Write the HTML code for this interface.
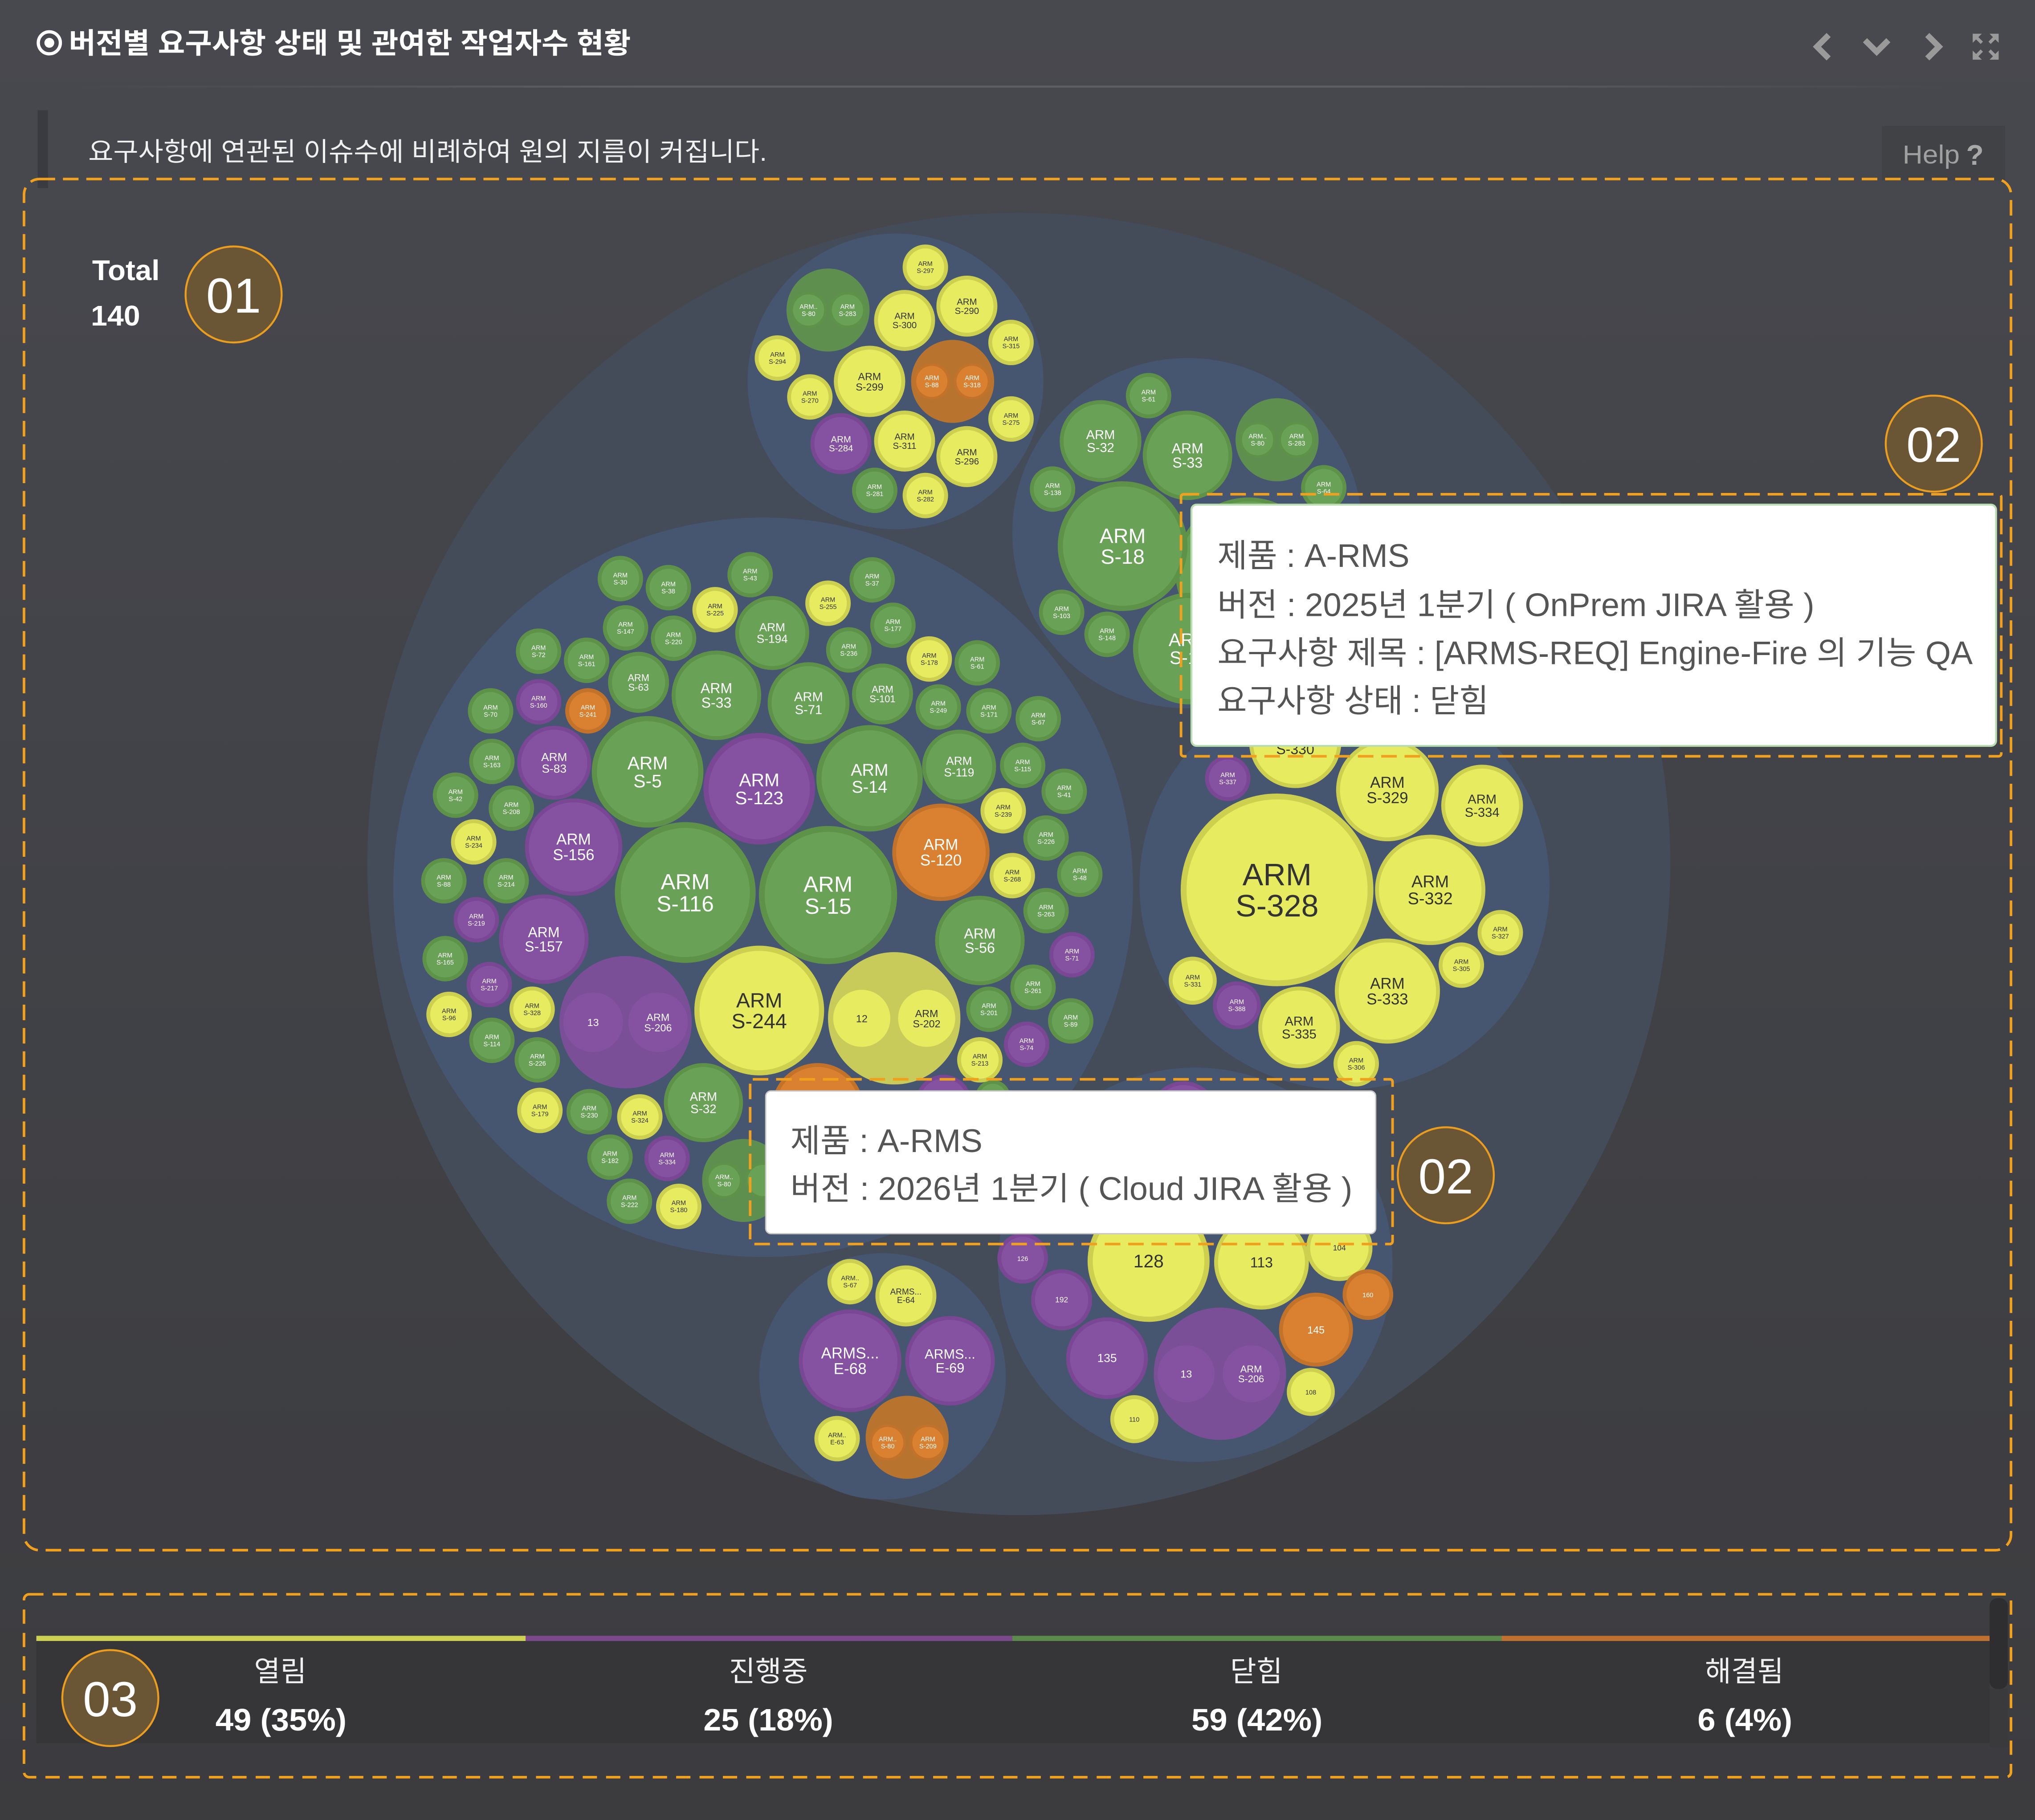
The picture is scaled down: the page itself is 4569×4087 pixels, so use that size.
<!DOCTYPE html>
<html><head><meta charset="utf-8">
<style>
html,body{margin:0;padding:0;background:#424348;}
svg{display:block}
text{font-family:"Liberation Sans","Noto Sans CJK KR",sans-serif}
.kr{font-family:"Liberation Sans","Noto Sans CJK KR",sans-serif}
.g{fill:#69a157;stroke:#5e9249;stroke-width:3}
.y{fill:#e7eb5f;stroke:#cdd04e;stroke-width:3}
.p{fill:#8551a1;stroke:#7a4795;stroke-width:3}
.o{fill:#d98130;stroke:#c3722a;stroke-width:3}
.gp{fill:#5f8f4f}.op{fill:#b8742f}.yp{fill:#c8cb5a}.pp{fill:#7b4f97}
.w{fill:#fff;text-anchor:middle}
.k{fill:#333;text-anchor:middle}
.s{font-size:5px}
.tt{font-size:25px;fill:#555}
.dash{fill:none;stroke:#f0a01c;stroke-width:2;stroke-dasharray:12 6}
.badge{fill:#6a5535;stroke:#eb9d1e;stroke-width:1.5}
.bt{fill:#fff;font-size:38px;text-anchor:middle}
</style></head><body>
<svg width="4569" height="4087" viewBox="0 0 1568 1403" preserveAspectRatio="none" xmlns="http://www.w3.org/2000/svg">
<defs>
<linearGradient id="bg" x1="0" y1="0" x2="0" y2="1">
<stop offset="0" stop-color="#48494f"/><stop offset="0.5" stop-color="#414247"/><stop offset="1" stop-color="#3c3c3f"/>
</linearGradient>
<linearGradient id="hl" x1="0" y1="0" x2="1" y2="0">
<stop offset="0" stop-color="#5b5c62" stop-opacity="0"/><stop offset="0.3" stop-color="#5e5f65"/><stop offset="0.7" stop-color="#5e5f65"/><stop offset="1" stop-color="#5b5c62" stop-opacity="0"/>
</linearGradient>
</defs>
<rect x="0" y="0" width="1568" height="1403" fill="url(#bg)"/>

<!-- header -->
<circle cx="38" cy="33" r="8.5" fill="none" stroke="#fff" stroke-width="2.5"/>
<circle cx="38" cy="33" r="3.8" fill="#fff"/>
<text x="53" y="41" font-size="22" font-weight="bold" fill="#fff" textLength="433" lengthAdjust="spacingAndGlyphs">버전별 요구사항 상태 및 관여한 작업자수 현황</text>
<polyline points="1409,27 1400,36 1409,45" fill="none" stroke="#9a9a9a" stroke-width="4.5"/>
<polyline points="1437,31 1446,40 1455,31" fill="none" stroke="#9a9a9a" stroke-width="4.5"/>
<polyline points="1485,27 1494,36 1485,45" fill="none" stroke="#9a9a9a" stroke-width="4.5"/>
<g fill="#9a9a9a" stroke="#9a9a9a" stroke-width="2.5">
<line x1="1521" y1="27" x2="1527" y2="33"/><polygon points="1520,26 1527,26 1520,33" stroke-width="0"/>
<line x1="1539" y1="27" x2="1533" y2="33"/><polygon points="1540,26 1533,26 1540,33" stroke-width="0"/>
<line x1="1521" y1="45" x2="1527" y2="39"/><polygon points="1520,46 1527,46 1520,39" stroke-width="0"/>
<line x1="1539" y1="45" x2="1533" y2="39"/><polygon points="1540,46 1533,46 1540,39" stroke-width="0"/>
</g>
<rect x="60" y="66" width="1440" height="1.5" fill="url(#hl)"/>
<rect x="29" y="85" width="8" height="60" fill="#3a3b40"/>
<text x="68" y="124" font-size="20" fill="#f0f0f0" textLength="523" lengthAdjust="spacingAndGlyphs">요구사항에 연관된 이슈수에 비례하여 원의 지름이 커집니다.</text>
<rect x="1450" y="97" width="95" height="42" fill="#414246"/>
<text x="1466" y="126" font-size="20" fill="#a0a0a0" textLength="44" lengthAdjust="spacingAndGlyphs">Help</text>
<text x="1515" y="127" font-size="22" font-weight="bold" fill="#a8a8a8">?</text>

<!-- Total -->
<text x="71" y="216" font-size="22" font-weight="bold" fill="#fff" textLength="52" lengthAdjust="spacingAndGlyphs">Total</text>
<text x="70" y="251" font-size="22" font-weight="bold" fill="#fff" textLength="38" lengthAdjust="spacingAndGlyphs">140</text>

<!-- outer circle + clusters -->
<circle cx="785" cy="666" r="502" fill="#444b59"/>
<circle cx="690" cy="294" r="114" fill="#475670"/>
<circle cx="915" cy="411" r="135" fill="#475670"/>
<circle cx="588" cy="684" r="285" fill="#475670"/>
<circle cx="1036" cy="682" r="158" fill="#475670"/>
<circle cx="921" cy="975" r="152" fill="#475670"/>
<circle cx="680" cy="1061" r="95" fill="#475670"/>

<!-- top cluster -->
<circle class="gp" cx="638" cy="239" r="32"/>
<circle class="g" cx="623" cy="239" r="13" style="stroke-width:2"/><text class="w s" x="623" y="238">ARM..</text><text class="w s" x="623" y="243.5">S-80</text>
<circle class="g" cx="653" cy="239" r="13" style="stroke-width:2"/><text class="w s" x="653" y="238">ARM</text><text class="w s" x="653" y="243.5">S-283</text>
<circle class="y" cx="713" cy="206" r="16"/><text class="k s" x="713" y="205">ARM</text><text class="k s" x="713" y="210.5">S-297</text>
<circle class="y" cx="745" cy="236" r="22"/><text class="k" font-size="7" x="745" y="235">ARM</text><text class="k" font-size="7" x="745" y="242">S-290</text>
<circle class="y" cx="697" cy="247" r="22"/><text class="k" font-size="7" x="697" y="246">ARM</text><text class="k" font-size="7" x="697" y="253">S-300</text>
<circle class="y" cx="779" cy="264" r="16"/><text class="k s" x="779" y="263">ARM</text><text class="k s" x="779" y="268.5">S-315</text>
<circle class="y" cx="599" cy="276" r="16"/><text class="k s" x="599" y="275">ARM</text><text class="k s" x="599" y="280.5">S-294</text>
<circle class="y" cx="670" cy="294" r="26"/><text class="k" font-size="8" x="670" y="293">ARM</text><text class="k" font-size="8" x="670" y="301">S-299</text>
<circle class="op" cx="734" cy="294" r="32"/>
<circle class="o" cx="718" cy="294" r="13" style="stroke-width:2"/><text class="w s" x="718" y="293">ARM</text><text class="w s" x="718" y="298.5">S-88</text>
<circle class="o" cx="749" cy="294" r="13" style="stroke-width:2"/><text class="w s" x="749" y="293">ARM</text><text class="w s" x="749" y="298.5">S-318</text>
<circle class="y" cx="624" cy="306" r="16"/><text class="k s" x="624" y="305">ARM</text><text class="k s" x="624" y="310.5">S-270</text>
<circle class="y" cx="779" cy="323" r="16"/><text class="k s" x="779" y="322">ARM</text><text class="k s" x="779" y="327.5">S-275</text>
<circle class="p" cx="648" cy="342" r="22"/><text class="w" font-size="7" x="648" y="341">ARM</text><text class="w" font-size="7" x="648" y="348">S-284</text>
<circle class="y" cx="697" cy="340" r="22"/><text class="k" font-size="7" x="697" y="339">ARM</text><text class="k" font-size="7" x="697" y="346">S-311</text>
<circle class="y" cx="745" cy="352" r="22"/><text class="k" font-size="7" x="745" y="351">ARM</text><text class="k" font-size="7" x="745" y="358">S-296</text>
<circle class="g" cx="674" cy="378" r="16"/><text class="w s" x="674" y="377">ARM</text><text class="w s" x="674" y="382.5">S-281</text>
<circle class="y" cx="713" cy="382" r="16"/><text class="k s" x="713" y="381">ARM</text><text class="k s" x="713" y="386.5">S-282</text>

<!-- top-right cluster -->
<circle class="g" cx="962" cy="440" r="55"/>
<circle class="g" cx="885" cy="305" r="16"/><text class="w s" x="885" y="304">ARM</text><text class="w s" x="885" y="309.5">S-61</text>
<circle class="g" cx="848" cy="340" r="30"/><text class="w" font-size="10" x="848" y="338.5">ARM</text><text class="w" font-size="10" x="848" y="348.5">S-32</text>
<circle class="g" cx="915" cy="351" r="33"/><text class="w" font-size="11" x="915" y="349.4">ARM</text><text class="w" font-size="11" x="915" y="360.4">S-33</text>
<circle class="gp" cx="984" cy="339" r="32"/>
<circle class="g" cx="969" cy="339" r="13" style="stroke-width:2"/><text class="w s" x="969" y="338">ARM..</text><text class="w s" x="969" y="343.5">S-80</text>
<circle class="g" cx="999" cy="339" r="13" style="stroke-width:2"/><text class="w s" x="999" y="338">ARM</text><text class="w s" x="999" y="343.5">S-283</text>
<circle class="g" cx="1020" cy="376" r="16"/><text class="w s" x="1020" y="375">ARM</text><text class="w s" x="1020" y="380.5">S-64</text>
<circle class="g" cx="811" cy="377" r="16"/><text class="w s" x="811" y="376">ARM</text><text class="w s" x="811" y="381.5">S-138</text>
<circle class="g" cx="865" cy="421" r="48" style="stroke-width:4"/><text class="w" font-size="16" x="865" y="418.6">ARM</text><text class="w" font-size="16" x="865" y="434.6">S-18</text>
<circle class="g" cx="818" cy="472" r="16"/><text class="w s" x="818" y="471">ARM</text><text class="w s" x="818" y="476.5">S-103</text>
<circle class="g" cx="853" cy="489" r="16"/><text class="w s" x="853" y="488">ARM</text><text class="w s" x="853" y="493.5">S-148</text>
<circle class="g" cx="916" cy="500" r="41" style="stroke-width:4"/><text class="w" font-size="14" x="916" y="497.9">ARM</text><text class="w" font-size="14" x="916" y="511.9">S-17</text>

<!-- right cluster -->
<circle class="y" cx="998" cy="572" r="34"/><text class="k" font-size="11" x="998" y="570.4">ARM</text><text class="k" font-size="11" x="998" y="581.4">S-330</text>
<circle class="p" cx="946" cy="600" r="16"/><text class="w s" x="946" y="599">ARM</text><text class="w s" x="946" y="604.5">S-337</text>
<circle class="y" cx="1069" cy="609" r="38"/><text class="k" font-size="12" x="1069" y="607.2">ARM</text><text class="k" font-size="12" x="1069" y="619.2">S-329</text>
<circle class="y" cx="1142" cy="621" r="30"/><text class="k" font-size="10" x="1142" y="619.5">ARM</text><text class="k" font-size="10" x="1142" y="629.5">S-334</text>
<circle class="y" cx="984" cy="686" r="72" style="stroke-width:4.5"/><text class="k" font-size="24" x="984" y="682.4">ARM</text><text class="k" font-size="24" x="984" y="706.4">S-328</text>
<circle class="y" cx="1102" cy="686" r="41"/><text class="k" font-size="13" x="1102" y="684">ARM</text><text class="k" font-size="13" x="1102" y="697">S-332</text>
<circle class="y" cx="1156" cy="719" r="16"/><text class="k s" x="1156" y="718">ARM</text><text class="k s" x="1156" y="723.5">S-327</text>
<circle class="y" cx="1126" cy="744" r="16"/><text class="k s" x="1126" y="743">ARM</text><text class="k s" x="1126" y="748.5">S-305</text>
<circle class="y" cx="919" cy="756" r="17"/><text class="k s" x="919" y="755">ARM</text><text class="k s" x="919" y="760.5">S-331</text>
<circle class="p" cx="953" cy="775" r="17"/><text class="w s" x="953" y="774">ARM</text><text class="w s" x="953" y="779.5">S-388</text>
<circle class="y" cx="1069" cy="764" r="39"/><text class="k" font-size="12" x="1069" y="762.2">ARM</text><text class="k" font-size="12" x="1069" y="774.2">S-333</text>
<circle class="y" cx="1001" cy="792" r="30"/><text class="k" font-size="10" x="1001" y="790.5">ARM</text><text class="k" font-size="10" x="1001" y="800.5">S-335</text>
<circle class="y" cx="1045" cy="820" r="16"/><text class="k s" x="1045" y="819">ARM</text><text class="k s" x="1045" y="824.5">S-306</text>

<!-- big left cluster : large -->
<circle class="g" cx="528" cy="688" r="52" style="stroke-width:4.5"/><text class="w" font-size="17" x="528" y="685.5">ARM</text><text class="w" font-size="17" x="528" y="702.5">S-116</text>
<circle class="g" cx="638" cy="690" r="51" style="stroke-width:4.5"/><text class="w" font-size="17" x="638" y="687.5">ARM</text><text class="w" font-size="17" x="638" y="704.5">S-15</text>
<circle class="g" cx="499" cy="595" r="41" style="stroke-width:4"/><text class="w" font-size="14" x="499" y="593">ARM</text><text class="w" font-size="14" x="499" y="607">S-5</text>
<circle class="p" cx="585" cy="608" r="41" style="stroke-width:4"/><text class="w" font-size="14" x="585" y="606">ARM</text><text class="w" font-size="14" x="585" y="620">S-123</text>
<circle class="g" cx="670" cy="600" r="39" style="stroke-width:4"/><text class="w" font-size="13" x="670" y="598">ARM</text><text class="w" font-size="13" x="670" y="611">S-14</text>
<circle class="g" cx="552" cy="536" r="33"/><text class="w" font-size="11" x="552" y="534.4">ARM</text><text class="w" font-size="11" x="552" y="545.4">S-33</text>
<circle class="g" cx="623" cy="542" r="30"/><text class="w" font-size="10" x="623" y="540.5">ARM</text><text class="w" font-size="10" x="623" y="550.5">S-71</text>
<circle class="g" cx="595" cy="488" r="27"/><text class="w" font-size="9" x="595" y="486.6">ARM</text><text class="w" font-size="9" x="595" y="495.6">S-194</text>
<circle class="g" cx="680" cy="535" r="22"/><text class="w" font-size="7.5" x="680" y="534">ARM</text><text class="w" font-size="7.5" x="680" y="541.4">S-101</text>
<circle class="g" cx="492" cy="526" r="22"/><text class="w" font-size="7.5" x="492" y="525">ARM</text><text class="w" font-size="7.5" x="492" y="532.4">S-63</text>
<circle class="p" cx="442" cy="653" r="36"/><text class="w" font-size="12" x="442" y="651">ARM</text><text class="w" font-size="12" x="442" y="663">S-156</text>
<circle class="p" cx="427" cy="588" r="27"/><text class="w" font-size="9" x="427" y="586.6">ARM</text><text class="w" font-size="9" x="427" y="595.6">S-83</text>
<circle class="p" cx="419" cy="724" r="33"/><text class="w" font-size="11" x="419" y="722.4">ARM</text><text class="w" font-size="11" x="419" y="733.4">S-157</text>
<circle class="o" cx="725" cy="657" r="36"/><text class="w" font-size="12" x="725" y="655.2">ARM</text><text class="w" font-size="12" x="725" y="667.2">S-120</text>
<circle class="g" cx="739" cy="591" r="27"/><text class="w" font-size="9" x="739" y="589.6">ARM</text><text class="w" font-size="9" x="739" y="598.6">S-119</text>
<circle class="g" cx="755" cy="725" r="33"/><text class="w" font-size="11" x="755" y="723.4">ARM</text><text class="w" font-size="11" x="755" y="734.4">S-56</text>
<circle class="y" cx="585" cy="779" r="48" style="stroke-width:4"/><text class="k" font-size="16" x="585" y="776.6">ARM</text><text class="k" font-size="16" x="585" y="792.6">S-244</text>
<circle class="yp" cx="689" cy="785" r="51"/>
<circle class="y" cx="664" cy="785" r="22" style="stroke-width:0"/><text class="k" font-size="8" x="664" y="788">12</text>
<circle class="y" cx="714" cy="785" r="22" style="stroke-width:0"/><text class="k" font-size="8" x="714" y="784">ARM</text><text class="k" font-size="8" x="714" y="792">S-202</text>
<circle class="pp" cx="482" cy="788" r="51"/>
<circle class="p" cx="457" cy="788" r="23" style="stroke-width:0"/><text class="w" font-size="8" x="457" y="791">13</text>
<circle class="p" cx="507" cy="788" r="23" style="stroke-width:0"/><text class="w" font-size="8" x="507" y="787">ARM</text><text class="w" font-size="8" x="507" y="795">S-206</text>
<circle class="g" cx="542" cy="850" r="29"/><text class="w" font-size="9.5" x="542" y="848.6">ARM</text><text class="w" font-size="9.5" x="542" y="858">S-32</text>
<circle class="gp" cx="573" cy="910" r="32"/>
<circle class="g" cx="558" cy="910" r="13" style="stroke-width:2"/><text class="w s" x="558" y="909">ARM..</text><text class="w s" x="558" y="914.5">S-80</text>
<circle class="g" cx="588" cy="910" r="13" style="stroke-width:2"/>
<circle class="o" cx="630" cy="855" r="34"/>
<circle class="p" cx="727" cy="850" r="20"/>
<circle class="g" cx="765" cy="846" r="12"/>

<!-- big left cluster : small -->
<g>
<circle class="g" cx="478" cy="446" r="16"/><text class="w s" x="478" y="445">ARM</text><text class="w s" x="478" y="450.5">S-30</text>
<circle class="g" cx="515" cy="453" r="16"/><text class="w s" x="515" y="452">ARM</text><text class="w s" x="515" y="457.5">S-38</text>
<circle class="y" cx="551" cy="470" r="16"/><text class="k s" x="551" y="469">ARM</text><text class="k s" x="551" y="474.5">S-225</text>
<circle class="g" cx="578" cy="443" r="16"/><text class="w s" x="578" y="442">ARM</text><text class="w s" x="578" y="447.5">S-43</text>
<circle class="g" cx="672" cy="447" r="16"/><text class="w s" x="672" y="446">ARM</text><text class="w s" x="672" y="451.5">S-37</text>
<circle class="y" cx="638" cy="465" r="16"/><text class="k s" x="638" y="464">ARM</text><text class="k s" x="638" y="469.5">S-255</text>
<circle class="g" cx="688" cy="482" r="16"/><text class="w s" x="688" y="481">ARM</text><text class="w s" x="688" y="486.5">S-177</text>
<circle class="g" cx="482" cy="484" r="16"/><text class="w s" x="482" y="483">ARM</text><text class="w s" x="482" y="488.5">S-147</text>
<circle class="g" cx="519" cy="492" r="16"/><text class="w s" x="519" y="491">ARM</text><text class="w s" x="519" y="496.5">S-220</text>
<circle class="g" cx="654" cy="501" r="16"/><text class="w s" x="654" y="500">ARM</text><text class="w s" x="654" y="505.5">S-236</text>
<circle class="y" cx="716" cy="508" r="16"/><text class="k s" x="716" y="507">ARM</text><text class="k s" x="716" y="512.5">S-178</text>
<circle class="g" cx="753" cy="511" r="16"/><text class="w s" x="753" y="510">ARM</text><text class="w s" x="753" y="515.5">S-61</text>
<circle class="g" cx="415" cy="502" r="16"/><text class="w s" x="415" y="501">ARM</text><text class="w s" x="415" y="506.5">S-72</text>
<circle class="g" cx="452" cy="509" r="16"/><text class="w s" x="452" y="508">ARM</text><text class="w s" x="452" y="513.5">S-161</text>
<circle class="p" cx="415" cy="541" r="16"/><text class="w s" x="415" y="540">ARM</text><text class="w s" x="415" y="545.5">S-160</text>
<circle class="o" cx="453" cy="548" r="16"/><text class="w s" x="453" y="547">ARM</text><text class="w s" x="453" y="552.5">S-241</text>
<circle class="g" cx="378" cy="548" r="16"/><text class="w s" x="378" y="547">ARM</text><text class="w s" x="378" y="552.5">S-70</text>
<circle class="g" cx="723" cy="545" r="16"/><text class="w s" x="723" y="544">ARM</text><text class="w s" x="723" y="549.5">S-249</text>
<circle class="g" cx="762" cy="548" r="16"/><text class="w s" x="762" y="547">ARM</text><text class="w s" x="762" y="552.5">S-171</text>
<circle class="g" cx="800" cy="554" r="16"/><text class="w s" x="800" y="553">ARM</text><text class="w s" x="800" y="558.5">S-67</text>
<circle class="g" cx="379" cy="587" r="16"/><text class="w s" x="379" y="586">ARM</text><text class="w s" x="379" y="591.5">S-163</text>
<circle class="g" cx="788" cy="590" r="16"/><text class="w s" x="788" y="589">ARM</text><text class="w s" x="788" y="594.5">S-115</text>
<circle class="g" cx="351" cy="613" r="16"/><text class="w s" x="351" y="612">ARM</text><text class="w s" x="351" y="617.5">S-42</text>
<circle class="g" cx="394" cy="623" r="16"/><text class="w s" x="394" y="622">ARM</text><text class="w s" x="394" y="627.5">S-208</text>
<circle class="g" cx="820" cy="610" r="16"/><text class="w s" x="820" y="609">ARM</text><text class="w s" x="820" y="614.5">S-41</text>
<circle class="y" cx="773" cy="625" r="16"/><text class="k s" x="773" y="624">ARM</text><text class="k s" x="773" y="629.5">S-239</text>
<circle class="y" cx="365" cy="649" r="16"/><text class="k s" x="365" y="648">ARM</text><text class="k s" x="365" y="653.5">S-234</text>
<circle class="g" cx="806" cy="646" r="16"/><text class="w s" x="806" y="645">ARM</text><text class="w s" x="806" y="650.5">S-226</text>
<circle class="g" cx="342" cy="679" r="16"/><text class="w s" x="342" y="678">ARM</text><text class="w s" x="342" y="683.5">S-88</text>
<circle class="g" cx="390" cy="679" r="16"/><text class="w s" x="390" y="678">ARM</text><text class="w s" x="390" y="683.5">S-214</text>
<circle class="y" cx="780" cy="675" r="16"/><text class="k s" x="780" y="674">ARM</text><text class="k s" x="780" y="679.5">S-268</text>
<circle class="g" cx="832" cy="674" r="16"/><text class="w s" x="832" y="673">ARM</text><text class="w s" x="832" y="678.5">S-48</text>
<circle class="p" cx="367" cy="709" r="16"/><text class="w s" x="367" y="708">ARM</text><text class="w s" x="367" y="713.5">S-219</text>
<circle class="g" cx="806" cy="702" r="16"/><text class="w s" x="806" y="701">ARM</text><text class="w s" x="806" y="706.5">S-263</text>
<circle class="p" cx="826" cy="736" r="16"/><text class="w s" x="826" y="735">ARM</text><text class="w s" x="826" y="740.5">S-71</text>
<circle class="g" cx="343" cy="739" r="16"/><text class="w s" x="343" y="738">ARM</text><text class="w s" x="343" y="743.5">S-165</text>
<circle class="p" cx="377" cy="759" r="16"/><text class="w s" x="377" y="758">ARM</text><text class="w s" x="377" y="763.5">S-217</text>
<circle class="g" cx="796" cy="761" r="16"/><text class="w s" x="796" y="760">ARM</text><text class="w s" x="796" y="765.5">S-261</text>
<circle class="y" cx="346" cy="782" r="16"/><text class="k s" x="346" y="781">ARM</text><text class="k s" x="346" y="786.5">S-96</text>
<circle class="y" cx="410" cy="778" r="16"/><text class="k s" x="410" y="777">ARM</text><text class="k s" x="410" y="782.5">S-328</text>
<circle class="g" cx="762" cy="778" r="16"/><text class="w s" x="762" y="777">ARM</text><text class="w s" x="762" y="782.5">S-201</text>
<circle class="g" cx="825" cy="787" r="16"/><text class="w s" x="825" y="786">ARM</text><text class="w s" x="825" y="791.5">S-89</text>
<circle class="g" cx="379" cy="802" r="16"/><text class="w s" x="379" y="801">ARM</text><text class="w s" x="379" y="806.5">S-114</text>
<circle class="g" cx="414" cy="817" r="16"/><text class="w s" x="414" y="816">ARM</text><text class="w s" x="414" y="821.5">S-226</text>
<circle class="p" cx="791" cy="805" r="16"/><text class="w s" x="791" y="804">ARM</text><text class="w s" x="791" y="809.5">S-74</text>
<circle class="y" cx="755" cy="817" r="16"/><text class="k s" x="755" y="816">ARM</text><text class="k s" x="755" y="821.5">S-213</text>
<circle class="y" cx="416" cy="856" r="16"/><text class="k s" x="416" y="855">ARM</text><text class="k s" x="416" y="860.5">S-179</text>
<circle class="g" cx="454" cy="857" r="16"/><text class="w s" x="454" y="856">ARM</text><text class="w s" x="454" y="861.5">S-230</text>
<circle class="y" cx="493" cy="861" r="16"/><text class="k s" x="493" y="860">ARM</text><text class="k s" x="493" y="865.5">S-324</text>
<circle class="g" cx="470" cy="892" r="16"/><text class="w s" x="470" y="891">ARM</text><text class="w s" x="470" y="896.5">S-182</text>
<circle class="p" cx="514" cy="893" r="16"/><text class="w s" x="514" y="892">ARM</text><text class="w s" x="514" y="897.5">S-334</text>
<circle class="g" cx="485" cy="926" r="16"/><text class="w s" x="485" y="925">ARM</text><text class="w s" x="485" y="930.5">S-222</text>
<circle class="y" cx="523" cy="930" r="16"/><text class="k s" x="523" y="929">ARM</text><text class="k s" x="523" y="934.5">S-180</text>
</g>

<!-- bottom cluster -->
<circle class="p" cx="912" cy="860" r="25"/>
<circle class="y" cx="885" cy="972" r="45" style="stroke-width:4"/><text class="k" font-size="14" x="885" y="977">128</text>
<circle class="y" cx="972" cy="973" r="35"/><text class="k" font-size="11" x="972" y="977">113</text>
<circle class="y" cx="1032" cy="962" r="24"/><text class="k" font-size="6" x="1032" y="964">104</text>
<circle class="p" cx="788" cy="970" r="18"/><text class="w s" x="788" y="972">126</text>
<circle class="p" cx="818" cy="1002" r="22"/><text class="w" font-size="6" x="818" y="1004">192</text>
<circle class="o" cx="1054" cy="998" r="18"/><text class="w s" x="1054" y="1000">160</text>
<circle class="o" cx="1014" cy="1025" r="27"/><text class="w" font-size="8" x="1014" y="1028">145</text>
<circle class="p" cx="853" cy="1047" r="30"/><text class="w" font-size="9" x="853" y="1050">135</text>
<circle class="pp" cx="940" cy="1059" r="51"/>
<circle class="p" cx="914" cy="1059" r="22" style="stroke-width:0"/><text class="w" font-size="8" x="914" y="1062">13</text>
<circle class="p" cx="964" cy="1059" r="22" style="stroke-width:0"/><text class="w" font-size="7.5" x="964" y="1058">ARM</text><text class="w" font-size="7.5" x="964" y="1065.5">S-206</text>
<circle class="y" cx="1010" cy="1073" r="17"/><text class="k s" x="1010" y="1075">108</text>
<circle class="y" cx="874" cy="1094" r="17"/><text class="k s" x="874" y="1096">110</text>

<!-- bottom-left cluster -->
<circle class="y" cx="655" cy="988" r="16"/><text class="k s" x="655" y="987">ARM..</text><text class="k s" x="655" y="992.5">S-67</text>
<circle class="y" cx="698" cy="999" r="22"/><text class="k" font-size="6.5" x="698" y="998">ARMS...</text><text class="k" font-size="6.5" x="698" y="1004.5">E-64</text>
<circle class="p" cx="655" cy="1049" r="38"/><text class="w" font-size="12" x="655" y="1047.2">ARMS...</text><text class="w" font-size="12" x="655" y="1059.2">E-68</text>
<circle class="p" cx="732" cy="1049" r="33"/><text class="w" font-size="10.5" x="732" y="1047.4">ARMS...</text><text class="w" font-size="10.5" x="732" y="1058">E-69</text>
<circle class="y" cx="645" cy="1109" r="16"/><text class="k s" x="645" y="1108">ARM..</text><text class="k s" x="645" y="1113.5">E-63</text>
<circle class="op" cx="699" cy="1108" r="32"/>
<circle class="o" cx="684" cy="1112" r="13" style="stroke-width:2"/><text class="w s" x="684" y="1111">ARM..</text><text class="w s" x="684" y="1116.5">S-80</text>
<circle class="o" cx="715" cy="1112" r="13" style="stroke-width:2"/><text class="w s" x="715" y="1111">ARM</text><text class="w s" x="715" y="1116.5">S-209</text>

<!-- main dashed box -->
<rect class="dash" x="18.5" y="138" width="1531" height="1057" rx="12"/>

<!-- tooltip 1 -->
<rect x="918" y="389" width="620" height="186" rx="4" fill="#fff" stroke="#b9dcb0" stroke-width="1.5"/>
<text class="tt" x="938" y="437" textLength="148" lengthAdjust="spacingAndGlyphs">제품 : A-RMS</text>
<text class="tt" x="938" y="475" textLength="460" lengthAdjust="spacingAndGlyphs">버전 : 2025년 1분기 ( OnPrem JIRA 활용 )</text>
<text class="tt" x="938" y="512" textLength="582" lengthAdjust="spacingAndGlyphs">요구사항 제목 : [ARMS-REQ] Engine-Fire 의 기능 QA</text>
<text class="tt" x="938" y="549" textLength="209" lengthAdjust="spacingAndGlyphs">요구사항 상태 : 닫힘</text>
<rect class="dash" x="910" y="381" width="632" height="202" rx="2"/>

<!-- tooltip 2 -->
<rect x="590" y="841" width="470" height="110" rx="4" fill="#fff" stroke="#c8c8c8" stroke-width="1"/>
<text class="tt" x="609" y="888" textLength="148" lengthAdjust="spacingAndGlyphs">제품 : A-RMS</text>
<text class="tt" x="609" y="925" textLength="433" lengthAdjust="spacingAndGlyphs">버전 : 2026년 1분기 ( Cloud JIRA 활용 )</text>
<rect class="dash" x="578" y="832" width="495" height="127" rx="2"/>

<!-- badges -->
<circle class="badge" cx="180" cy="227" r="37"/><text class="bt" x="180" y="241">01</text>
<circle class="badge" cx="1490" cy="342" r="37"/><text class="bt" x="1490" y="356">02</text>
<circle class="badge" cx="1114" cy="906" r="37"/><text class="bt" x="1114" y="920">02</text>

<!-- legend -->
<rect x="28" y="1262" width="1505" height="82" fill="#363638"/>
<rect x="28" y="1261" width="377" height="4" fill="#cdd152"/>
<rect x="405" y="1261" width="375" height="4" fill="#7c4a8c"/>
<rect x="780" y="1261" width="377" height="4" fill="#5b8a4d"/>
<rect x="1157" y="1261" width="376" height="4" fill="#c0712f"/>
<rect x="1533" y="1232" width="14" height="70" rx="6" fill="#2e2e30"/>
<rect x="1533" y="1302" width="14" height="45" fill="#3a3a3c"/>
<g font-size="22" fill="#f0f0f0" text-anchor="middle">
<text x="216" y="1296">열림</text>
<text x="592" y="1296">진행중</text>
<text x="968" y="1296">닫힘</text>
<text x="1344" y="1296">해결됨</text>
</g>
<g font-size="24" font-weight="bold" fill="#fff">
<text x="166" y="1334" textLength="101" lengthAdjust="spacingAndGlyphs">49 (35%)</text>
<text x="542" y="1334" textLength="100" lengthAdjust="spacingAndGlyphs">25 (18%)</text>
<text x="918" y="1334" textLength="101" lengthAdjust="spacingAndGlyphs">59 (42%)</text>
<text x="1308" y="1334" textLength="73" lengthAdjust="spacingAndGlyphs">6 (4%)</text>
</g>
<circle class="badge" cx="85" cy="1309" r="37"/><text class="bt" x="85" y="1323">03</text>
<rect class="dash" x="18.5" y="1229" width="1531" height="141" rx="4" style="stroke-dasharray:11 7"/>
</svg>
</body></html>
